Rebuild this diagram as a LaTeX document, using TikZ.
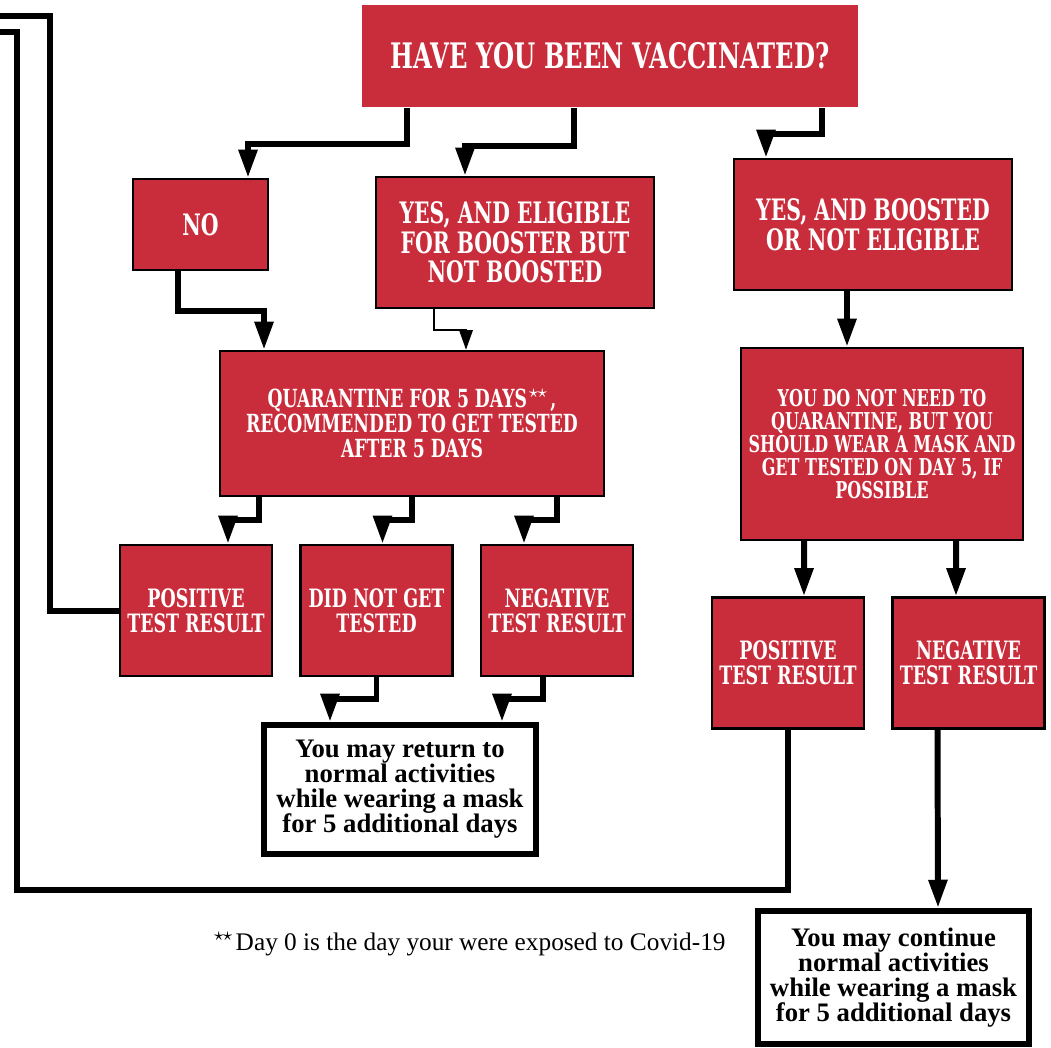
\documentclass[tikz,border=0pt]{standalone}
\usepackage{fontspec}
\usepackage{xcolor}
\usetikzlibrary{arrows.meta}
\setmainfont{Liberation Serif}
\newfontfamily\slabfont[FakeStretch=0.69]{DejaVu Serif}
\newcommand\tightskip{\lineskiplimit=-5pt\relax}

\begin{document}
\begin{tikzpicture}[redbox/.style={rectangle,fill=vaxred,draw=black,line width=0.7pt,text=white,align=center,inner sep=1pt,font=\slabfont\bfseries\fontsize{#1}{#1}\selectfont\tightskip},
  whitebox/.style={rectangle,fill=white,draw=black,line width=1.8pt,align=center,inner sep=1pt,font=\bfseries\fontsize{7.6}{7.1}\selectfont\tightskip},
  link/.style={line width=1.7pt,-{Triangle[width=5.1pt,length=8pt]}},
  thinlink/.style={line width=0.6pt,-{Triangle[width=3.8pt,length=5.6pt]}},
  loopline/.style={line width=1.7pt}]
\definecolor{vaxred}{HTML}{C92D3B}
\useasboundingbox (0,0) rectangle (10.51,-10.47);
\node [redbox=10,draw=none,minimum width=4.96cm,minimum height=1.02cm] (vacc) at (6.10,-0.56) {HAVE YOU BEEN VACCINATED?};
\node [redbox=8.4,minimum width=1.35cm,minimum height=0.91cm] (no) at (2.005,-2.245) {NO};
\node [redbox=8.4,minimum width=2.78cm,minimum height=1.31cm] (elig) at (5.15,-2.425) {YES, AND ELIGIBLE\\FOR BOOSTER BUT\\NOT BOOSTED};
\node [redbox=8.4,minimum width=2.78cm,minimum height=1.31cm] (boost) at (8.73,-2.245) {YES, AND BOOSTED\\OR NOT ELIGIBLE};
\node [redbox=7.1,minimum width=3.84cm,minimum height=1.45cm] (quar) at (4.12,-4.235) {QUARANTINE FOR 5 DAYS${}^{\star\!\star}$,\\RECOMMENDED TO GET TESTED\\AFTER 5 DAYS};
\node [redbox=6.6,minimum width=2.82cm,minimum height=1.92cm] (noneed) at (8.82,-4.44) {YOU DO NOT NEED TO\\QUARANTINE, BUT YOU\\SHOULD WEAR A MASK AND\\GET TESTED ON DAY 5, IF\\POSSIBLE};
  \foreach \nm/\xc/\yc/\txt in {posl/1.96/-6.105/{POSITIVE\\TEST RESULT},notest/3.765/-6.105/{DID NOT GET\\TESTED},negl/5.57/-6.105/{NEGATIVE\\TEST RESULT},posr/7.88/-6.63/{POSITIVE\\TEST RESULT},negr/9.685/-6.63/{NEGATIVE\\TEST RESULT}}
  {  \node [redbox=7.2,minimum width=1.52cm,minimum height=1.31cm] (\nm) at (\xc,\yc) {\txt};}
\node [whitebox,minimum width=2.72cm,minimum height=1.29cm] (ret) at (4.00,-7.895) {You may return to\\normal activities\\while wearing a mask\\for 5 additional days};
\node [whitebox,minimum width=2.71cm,minimum height=1.33cm] (cont) at (8.935,-9.775) {You may continue\\normal activities\\while wearing a mask\\for 5 additional days};
\node [font=\fontsize{7.2}{8}\selectfont] (note) at (4.69,-9.44) {${}^{\star\!\star}$Day 0 is the day your were exposed to Covid-19};
\coordinate (exitb) at (0,-0.16);
\coordinate (exita) at (0,-0.32);
\draw [link] ([xshift=-2.03cm]vacc.south) -- ++(0,-0.36) -| ([xshift=0.475cm]no.north);
\draw [link] ([xshift=-0.36cm]vacc.south) -- ++(0,-0.38) -| ([xshift=-0.50cm]elig.north);
\draw [link] ([xshift=2.12cm]vacc.south) -- ++(0,-0.26) -| ([xshift=-1.07cm]boost.north);
\draw [link] ([xshift=-0.225cm]no.south) -- ++(0,-0.40) -| ([xshift=-1.48cm]quar.north);
\draw [thinlink] ([xshift=-0.81cm]elig.south) -- ++(0,-0.21) -| ([xshift=0.54cm]quar.north);
\draw [link] ([xshift=-0.26cm]boost.south) -- ([xshift=-0.35cm]noneed.north);
  \foreach \dx/\nm/\ex in {-1.53/posl/0.32,0/notest/0.06,1.45/negl/-0.33}
  {  \draw [link] ([xshift=\dx cm]quar.south) -- ++(0,-0.23) -| ([xshift=\ex cm]\nm.north);}
\draw [link] ([xshift=-0.78cm]noneed.south) -- ([xshift=0.16cm]posr.north);
\draw [link] ([xshift=0.74cm]noneed.south) -- ([xshift=-0.125cm]negr.north);
\draw [link] (notest.south) -- ++(0,-0.22) -| ([xshift=-0.70cm]ret.north);
\draw [link] ([xshift=-0.14cm]negl.south) -- ++(0,-0.22) -| ([xshift=1.02cm]ret.north);
\draw [link] ([xshift=-0.31cm]negr.south) -- ([xshift=0.445cm]cont.north);
\draw [loopline] (posl.west) -| (0.50,-0.16) -- (exitb);
\draw [loopline] (posr.south) |- (0.17,-8.90) |- (exita);
\end{tikzpicture}
\end{document}
